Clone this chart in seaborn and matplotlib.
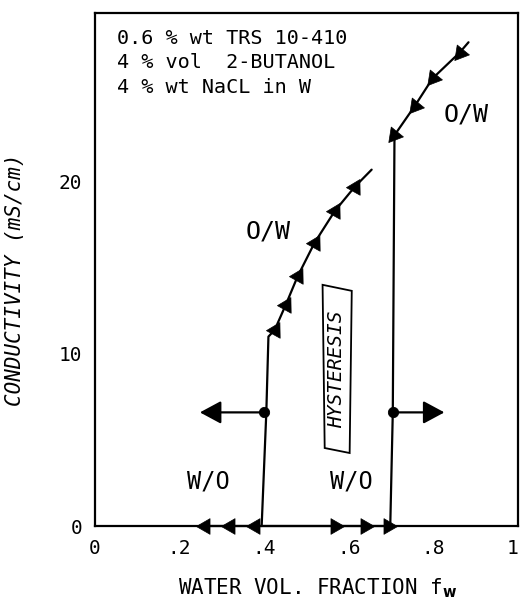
import matplotlib
matplotlib.use("Agg")
import matplotlib.pyplot as plt
from matplotlib.patches import Polygon
import seaborn as sns

# ---------------- data ----------------
# W/O branch on the baseline, water fraction increasing (arrows to the right)
base_fwd_x = [0.567, 0.638, 0.693]
base_fwd_y = [0.0, 0.0, 0.0]
# W/O branch on the baseline, water fraction decreasing (arrows to the left)
base_rev_x = [0.260, 0.319, 0.378]
base_rev_y = [0.0, 0.0, 0.0]
# O/W branch after the low inversion
mid_x = [0.425, 0.451, 0.479, 0.519, 0.567, 0.614]
mid_y = [11.4, 12.85, 14.5, 16.45, 18.3, 19.7]
# O/W branch after the high inversion
up_x = [0.708, 0.756, 0.798, 0.862]
up_y = [22.7, 24.4, 26.0, 27.5]
# connecting paths
low_path_x = [0.394, 0.405, 0.410] + mid_x + [0.654]
low_path_y = [0.0, 6.6, 11.0] + mid_y + [20.7]
high_path_x = [0.698, 0.704] + up_x + [0.883]
high_path_y = [0.0, 6.6] + up_y + [28.1]
base_line_x = [0.245, 0.700]
base_line_y = [0.0, 0.0]
# inversion points and direction arrows
inv_x = [0.400, 0.704]
inv_y = [6.6, 6.6]
arrow_end_x = [0.248, 0.826]

x_ticks = [0, 0.2, 0.4, 0.6, 0.8, 1.0]
x_tick_labels = ["0", ".2", ".4", ".6", ".8", "1"]
y_ticks = [0, 10, 20]
y_tick_labels = ["0", "10", "20"]
notes = ["0.6 % wt TRS 10-410", "4 % vol  2-BUTANOL", "4 % wt NaCL in W"]

# ---------------- figure ----------------
sns.set_style("white")
plt.rcParams["font.family"] = ["DejaVu Sans Mono", "DejaVu Sans"]
for k in ["text.color", "axes.labelcolor", "xtick.color", "ytick.color", "axes.edgecolor"]:
    plt.rcParams[k] = "black"

fig = plt.figure(figsize=(5.21, 5.99), dpi=100)
ax = fig.add_axes([95 / 521, 73 / 599, 423 / 521, 513 / 599])

lw = 1.6
for px, py in [(low_path_x, low_path_y), (high_path_x, high_path_y), (base_line_x, base_line_y)]:
    sns.lineplot(x=px, y=py, sort=False, estimator=None, color="black", lw=lw,
                 ax=ax, clip_on=False, zorder=3)

def tri(xs, ys, angle, s=170):
    sns.scatterplot(x=xs, y=ys, marker=(3, 0, angle), s=s, color="black",
                    edgecolor="black", linewidth=0.5, ax=ax, clip_on=False, zorder=4)

tri(base_fwd_x, base_fwd_y, -90)
tri(base_rev_x, base_rev_y, 90)
tri(mid_x, mid_y, -29)
tri(up_x, up_y, 141)

sns.scatterplot(x=inv_x, y=inv_y, s=55, color="black", edgecolor="black", ax=ax, zorder=5)
for x0, y0, x1 in zip(inv_x, inv_y, arrow_end_x):
    ax.annotate("", xy=(x1, y0), xytext=(x0, y0),
                arrowprops=dict(arrowstyle="-|>,head_length=0.65,head_width=0.35",
                                mutation_scale=20, color="black", lw=lw,
                                shrinkA=0, shrinkB=0))

ax.set_xlim(0, 1)
ax.set_ylim(0, 29.8)
ax.set_xticks(x_ticks)
ax.set_xticklabels(x_tick_labels)
ax.set_yticks(y_ticks)
ax.set_yticklabels(y_tick_labels)
ax.tick_params(direction="in", length=7, width=1.2, labelsize=14, pad=9)
ax.get_xticklabels()[-1].set_horizontalalignment("right")
for sp in ax.spines.values():
    sp.set_linewidth(1.6)

ax.set_xlabel(r"WATER VOL. FRACTION f$_{\mathbf{w}}$", fontsize=15)
ax.xaxis.set_label_coords((318 - 95) / 423, -0.098)
ax.set_ylabel("CONDUCTIVITY (mS/cm)", fontsize=15, style="italic")
ax.yaxis.set_label_coords(-0.165, (526 - 280) / 513)

for i, t in enumerate(notes):
    ax.text(0.052, 28.3 - 1.4 * i, t, fontsize=14.5, va="center", ha="left")

ax.text(0.41, 17.1, "O/W", fontsize=18, ha="center", va="center")
ax.text(0.878, 23.9, "O/W", fontsize=18, ha="center", va="center")
ax.text(0.267, 2.56, "W/O", fontsize=17, ha="center", va="center")
ax.text(0.607, 2.56, "W/O", fontsize=17, ha="center", va="center")

box_x = [0.538, 0.607, 0.602, 0.543]
box_y = [14.01, 13.66, 4.24, 4.53]
ax.add_patch(Polygon(list(zip(box_x, box_y)), closed=True, fill=False,
                     ec="black", lw=1.3, zorder=3))
ax.text(0.571, 9.13, "HYSTERESIS", fontsize=14, rotation=90, style="italic",
        ha="center", va="center")

fig.savefig("out.png", dpi=100)
